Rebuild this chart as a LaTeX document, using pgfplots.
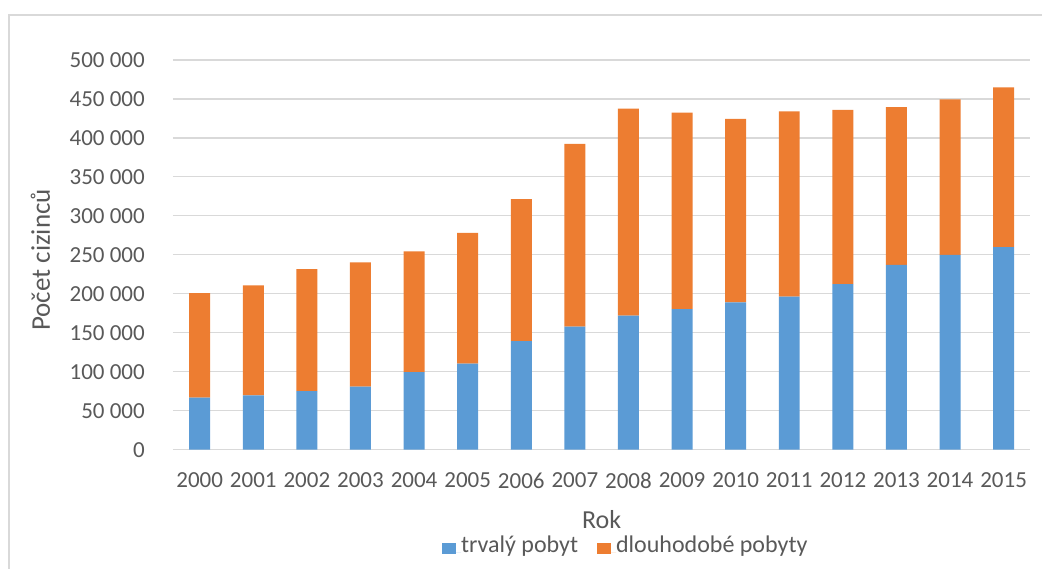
\documentclass[border=0pt]{standalone}
\usepackage{pgfplots}
\pgfplotsset{compat=1.18}
\usepackage{fontspec}
\setmainfont{Carlito}
\definecolor{cblue}{HTML}{5B9BD5}
\definecolor{corange}{HTML}{ED7D31}
\definecolor{ctext}{HTML}{595959}
\definecolor{cgrid}{HTML}{D9D9D9}
\begin{document}
\begin{tikzpicture}[x=1bp,y=1bp]
\path (0,0) rectangle (1043,569);
\draw[cgrid, line width=1.2bp] (9,0) -- (9,554) -- (1043,554);
\begin{axis}[
  at={(173bp,119bp)}, anchor=south west,
  scale only axis, width=858bp, height=390bp,
  ybar stacked, bar width=21bp,
  xmin=1999.5, xmax=2015.5,
  ymin=0, ymax=500000,
  xtick={2000,2001,2002,2003,2004,2005,2006,2007,2008,2009,2010,2011,2012,2013,2014,2015},
  xticklabels={2000,2001,2002,2003,2004,2005,2006,2007,2008,2009,2010,2011,2012,2013,2014,2015},
  ytick={0,50000,100000,150000,200000,250000,300000,350000,400000,450000,500000},
  yticklabels={0,50 000,100 000,150 000,200 000,250 000,300 000,350 000,400 000,450 000,500 000},
  scaled y ticks=false,
  xticklabel style={font=\fontsize{23bp}{26bp}\selectfont, text=ctext, inner sep=0pt, anchor=north, yshift=-23bp},
  yticklabel style={font=\fontsize{23bp}{26bp}\selectfont, text=ctext, inner sep=0pt, anchor=east, xshift=-28bp},
  major tick length=0pt,
  axis x line*=bottom, axis y line*=left,
  x axis line style={cgrid, line width=1.2bp, -},
  y axis line style={draw=none},
  ymajorgrids, grid style={cgrid, line width=1.2bp},
  xlabel={Rok}, ylabel={Počet cizinců},
  xlabel style={at={(axis description cs:0.5,-0.2026)}, anchor=base, font=\fontsize{26bp}{30bp}\selectfont, text=ctext},
  ylabel style={at={(axis description cs:-0.1434,0.487)}, anchor=base, font=\fontsize{27bp}{30bp}\selectfont, text=ctext},
  legend columns=2,
  legend style={at={(0.527,-0.2436)}, anchor=center, draw=none, fill=none,
    font=\fontsize{24bp}{27bp}\selectfont, text=ctext,
    /tikz/every even column/.append style={column sep=19bp},
    nodes={inner sep=0pt, anchor=base west},
  },
  legend image code/.code={\fill[#1] (0bp,-2bp) rectangle (14bp,9bp); \path (14bp,0) -- (19bp,0);},
]
\addplot+[fill=cblue, draw=none] coordinates {
(2000,66891) (2001,69816) (2002,75249) (2003,80844) (2004,99467) (2005,110598)
(2006,139185) (2007,158000) (2008,172191) (2009,180235) (2010,188952) (2011,196495)
(2012,212455) (2013,237000) (2014,249900) (2015,260040)};
\addplot+[fill=corange, draw=none] coordinates {
(2000,134060) (2001,140978) (2002,156359) (2003,159577) (2004,154827) (2005,167714)
(2006,182271) (2007,234315) (2008,265374) (2009,252268) (2010,235339) (2011,237658)
(2012,223491) (2013,202500) (2014,199467) (2015,204630)};
\legend{trvalý pobyt, dlouhodobé pobyty}
\end{axis}
\end{tikzpicture}
\end{document}
